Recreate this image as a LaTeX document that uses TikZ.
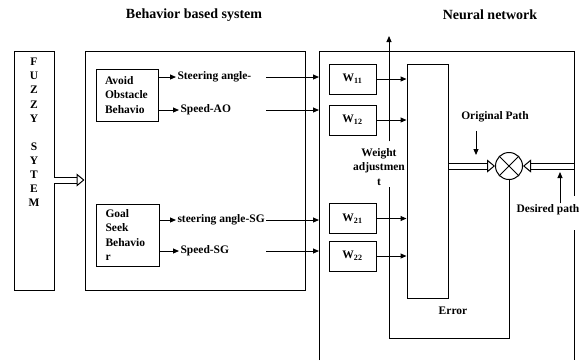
\documentclass[tikz,border=0pt]{standalone}
\usepackage{fontspec}
\setmainfont{Liberation Serif}
\usetikzlibrary{arrows.meta}

\tikzset{
	lbl/.style={font=\fontsize{11.5}{14.1}\selectfont\bfseries, inner sep=1pt},
	ttl/.style={font=\fontsize{14}{16}\selectfont\bfseries},
	blk/.style={draw, inner sep=0pt},
	dbl/.style={double, double distance=5pt, -{Triangle[open, fill=white, length=8pt, width=13pt, line width=1pt]}}
}

\begin{document}
\begin{tikzpicture}[x=1pt, y=-1pt, line width=1pt, >={Triangle[length=6pt,width=5pt]}]
	\useasboundingbox (0,0) rectangle (584,360);

	\draw (194,15) node[ttl] (ttlbbs) {Behavior based system};
	\draw (490,15) node[ttl] (ttlnn) {Neural network};

	% fuzzy block
	\draw (34,170.5) node[blk, minimum width=40pt, minimum height=239pt] (fuzzy) {};
	\draw (34,132.5) node[lbl, align=center] (fuzzytxt) {F\\U\\Z\\Z\\Y\\~\\S\\Y\\T\\E\\M};
	\coordinate (fzout) at (54,180);

	% behaviors
	\draw (195,170.5) node[blk, minimum width=220pt, minimum height=239pt] (bbs) {};
	\draw (127,95) node[blk, lbl, minimum width=62pt, minimum height=52pt, text width=44pt, align=left] (avoid) {Avoid\\Obstacle\\Behavio};
	\draw (127.5,235) node[blk, lbl, minimum width=63pt, minimum height=62pt, text width=44pt, align=left] (goal) {Goal\\Seek\\Behavio\\r};

	\draw (176,77) node[lbl, anchor=west] (sa1) {Steering angle-};
	\draw (179,110) node[lbl, anchor=west] (spd1) {Speed-AO};
	\draw (176,220) node[lbl, anchor=west] (sa2) {steering angle-SG};
	\draw (179,251) node[lbl, anchor=west] (spd2) {Speed-SG};

	\draw [->] (avoid.east |- sa1) -- (sa1.west);
	\draw [->] (avoid.east |- spd1) -- (spd1.west);
	\draw [->] (goal.east |- sa2) -- (sa2.west);
	\draw [->] (goal.east |- spd2) -- (spd2.west);

	% neural network
	\coordinate (nnNW) at (319,51);
	\coordinate (cut) at (266,0);
	\draw (319,360) -- (nnNW) -- (574,51) -- (574,196);
	\draw (574,230) -- (574,360);

	\draw [->] (sa1 -| cut) -- (sa1 -| nnNW);
	\draw [->] (spd1 -| cut) -- (spd1 -| nnNW);
	\draw [->] (sa2.east) -- (sa2 -| nnNW);
	\draw [->] (spd2 -| cut) -- (spd2 -| nnNW);

	\draw (352.5,79) node[blk, lbl, minimum width=47pt, minimum height=30pt] (w11) {W\textsubscript{11}};
	\draw (352.5,120) node[blk, lbl, minimum width=47pt, minimum height=30pt] (w12) {W\textsubscript{12}};
	\draw (352.5,218.5) node[blk, lbl, minimum width=47pt, minimum height=30pt] (w21) {W\textsubscript{21}};
	\draw (352.5,256) node[blk, lbl, minimum width=47pt, minimum height=30pt] (w22) {W\textsubscript{22}};

	\draw (427.5,181) node[blk, minimum width=41pt, minimum height=234pt] (sig) {};
	\draw (427,196) node (sigsym) {$\mathbf{\Sigma}$};

	\draw [->] (w11.east) -- (w11.east -| sig.west);
	\draw [->] (w12.east) -- (w12.east -| sig.west);
	\draw [->] (w21.east) -- (w21.east -| sig.west);
	\draw [->] (w22.east) -- (w22.east -| sig.west);

	% weight adjustment loop
	\draw (379,167) node[lbl, align=center] (wadj) {Weight\\adjustmen\\t};
	\coordinate (wtop) at (389,36);
	\coordinate (wbot) at (389,338);
	\draw [->, shorten <=6pt] (wadj.north -| wtop) -- (wtop);

	\draw (509,166) node[circle, draw, minimum size=27pt, inner sep=0pt] (cmp) {};
	\draw (cmp.north west) -- (cmp.south east) (cmp.north east) -- (cmp.south west);
	\draw (cmp.south) |- (wbot) -- (wadj.south -| wbot);
	\draw (453,311) node[lbl] (err) {Error};

	% paths
	\draw (495,117) node[lbl] (op) {Original Path};
	\coordinate (opTip) at (476,155);
	\draw [->, shorten <=7pt] (op.south -| opTip) -- (opTip);
	\draw (548,210) node[lbl] (dp) {Desired path};
	\coordinate (dpTip) at (560,172);
	\draw [->] (dp.north -| dpTip) -- (dpTip);

	% wide arrows
	\draw [dbl] (fzout) -- (fzout -| bbs.west);
	\draw [dbl] (sig.east |- cmp) -- (cmp.west);
	\draw [dbl] (cmp -| 574,0) -- (cmp.east);
\end{tikzpicture}
\end{document}
